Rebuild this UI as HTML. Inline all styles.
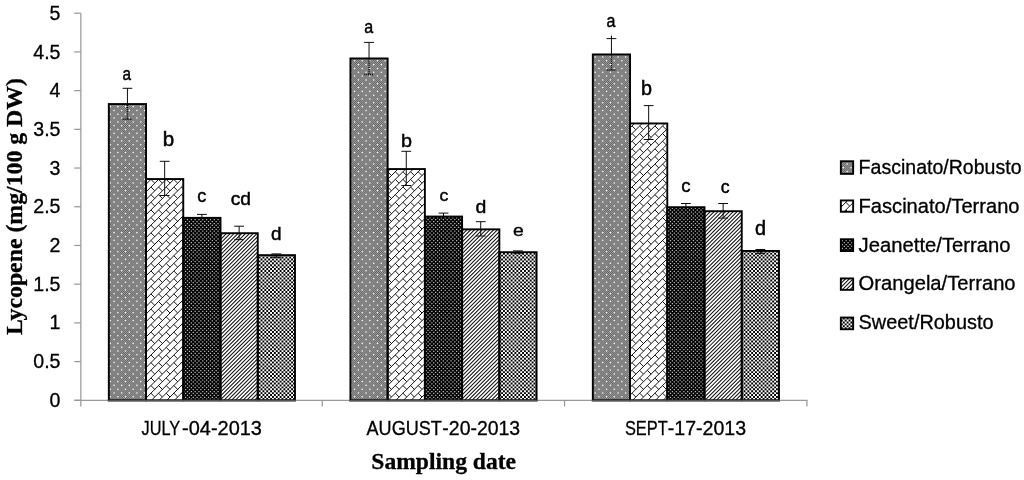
<!DOCTYPE html>
<html lang="en"><head><meta charset="utf-8"><title>Lycopene chart</title>
<style>
html,body{margin:0;padding:0;background:#fff;}
body{width:1024px;height:480px;overflow:hidden;}
svg{display:block;filter:blur(0.4px);}
.t{font-family:"Liberation Sans",sans-serif;fill:#000;stroke:#000;stroke-width:0.3px;}
.s{font-family:"Liberation Serif",serif;font-weight:bold;fill:#000;stroke:#000;stroke-width:0.3px;}
.h{stroke:#000;fill:none;}
</style></head><body>
<svg width="1024" height="480" viewBox="0 0 1024 480">
<defs>
<pattern id="p1" width="84" height="84" patternUnits="userSpaceOnUse">
<rect width="84" height="84" fill="#000" fill-opacity="0.3"/>
<path d="M-1.909,0.477H87M-0.955,1.432H87M-1.909,2.386H87M-0.955,3.341H87M-1.909,4.295H87M-0.955,5.25H87M-1.909,6.205H87M-0.955,7.159H87M-1.909,8.114H87M-0.955,9.068H87M-1.909,10.023H87M-0.955,10.977H87M-1.909,11.932H87M-0.955,12.886H87M-1.909,13.841H87M-0.955,14.795H87M-1.909,15.75H87M-0.955,16.705H87M-1.909,17.659H87M-0.955,18.614H87M-1.909,19.568H87M-0.955,20.523H87M-1.909,21.477H87M-0.955,22.432H87M-1.909,23.386H87M-0.955,24.341H87M-1.909,25.295H87M-0.955,26.25H87M-1.909,27.205H87M-0.955,28.159H87M-1.909,29.114H87M-0.955,30.068H87M-1.909,31.023H87M-0.955,31.977H87M-1.909,32.932H87M-0.955,33.886H87M-1.909,34.841H87M-0.955,35.795H87M-1.909,36.75H87M-0.955,37.705H87M-1.909,38.659H87M-0.955,39.614H87M-1.909,40.568H87M-0.955,41.523H87M-1.909,42.477H87M-0.955,43.432H87M-1.909,44.386H87M-0.955,45.341H87M-1.909,46.295H87M-0.955,47.25H87M-1.909,48.205H87M-0.955,49.159H87M-1.909,50.114H87M-0.955,51.068H87M-1.909,52.023H87M-0.955,52.977H87M-1.909,53.932H87M-0.955,54.886H87M-1.909,55.841H87M-0.955,56.795H87M-1.909,57.75H87M-0.955,58.705H87M-1.909,59.659H87M-0.955,60.614H87M-1.909,61.568H87M-0.955,62.523H87M-1.909,63.477H87M-0.955,64.432H87M-1.909,65.386H87M-0.955,66.341H87M-1.909,67.295H87M-0.955,68.25H87M-1.909,69.205H87M-0.955,70.159H87M-1.909,71.114H87M-0.955,72.068H87M-1.909,73.023H87M-0.955,73.977H87M-1.909,74.932H87M-0.955,75.886H87M-1.909,76.841H87M-0.955,77.795H87M-1.909,78.75H87M-0.955,79.705H87M-1.909,80.659H87M-0.955,81.614H87M-1.909,82.568H87M-0.955,83.523H87" stroke="#000" stroke-opacity="0.57" stroke-width="0.955" stroke-dasharray="0.955 0.955" fill="none"/>
<path d="M-0.496,-4.096H93M-4.316,-7.913H93M-0.496,3.54H93M-4.316,-0.276H93M-0.496,11.176H93M-4.316,7.36H93M-0.496,18.813H93M-4.316,14.996H93M-0.496,26.449H93M-4.316,22.633H93M-0.496,34.085H93M-4.316,30.269H93M-0.496,41.722H93M-4.316,37.905H93M-0.496,49.358H93M-4.316,45.542H93M-0.496,56.995H93M-4.316,53.178H93M-0.496,64.631H93M-4.316,60.815H93M-0.496,72.267H93M-4.316,68.451H93M-0.496,79.904H93M-4.316,76.087H93M-0.496,87.54H93M-4.316,83.724H93" stroke="#fff" stroke-width="1.55" stroke-linecap="round" stroke-dasharray="0 7.636" fill="none"/>
</pattern>
<pattern id="p2" width="84" height="84" patternUnits="userSpaceOnUse">
<path d="M-3.696,-2L-2,-3.696M3.94,-2L-2,3.94M11.576,-2L-2,11.576M19.213,-2L-2,19.213M26.849,-2L-2,26.849M34.485,-2L-2,34.485M42.122,-2L-2,42.122M49.758,-2L-2,49.758M57.395,-2L-2,57.395M65.031,-2L-2,65.031M72.667,-2L-2,72.667M80.304,-2L-2,80.304M87.94,-2L-2,87.94M95.576,-2L-2,95.576M103.213,-2L-2,103.213M110.849,-2L-2,110.849M118.485,-2L-2,118.485M126.122,-2L-2,126.122M133.758,-2L-2,133.758M141.395,-2L-2,141.395M149.031,-2L-2,149.031M156.667,-2L-2,156.667M164.304,-2L-2,164.304M171.94,-2L-2,171.94M179.576,-2L-2,179.576" stroke="#141414" stroke-width="1.0" fill="none"/>
<path d="M-9.435,80.102l114.545,114.545M-9.435,72.465l114.545,114.545M-9.435,64.829l114.545,114.545M-9.435,57.193l114.545,114.545M-9.435,49.556l114.545,114.545M-9.435,41.92l114.545,114.545M-9.435,34.284l114.545,114.545M-9.435,26.647l114.545,114.545M-9.435,19.011l114.545,114.545M-9.435,11.375l114.545,114.545M-9.435,3.738l114.545,114.545M-9.435,-3.898l114.545,114.545M-9.435,-11.535l114.545,114.545M-9.435,-19.171l114.545,114.545M-9.435,-26.807l114.545,114.545M-9.435,-34.444l114.545,114.545M-9.435,-42.08l114.545,114.545M-9.435,-49.716l114.545,114.545M-9.435,-57.353l114.545,114.545M-9.435,-64.989l114.545,114.545M-9.435,-72.625l114.545,114.545M-9.435,-80.262l114.545,114.545M-9.435,-87.898l114.545,114.545M-9.435,-95.535l114.545,114.545M-9.435,-103.171l114.545,114.545" stroke="#141414" stroke-width="1.0" stroke-dasharray="5.4 5.4" fill="none"/>
</pattern>
<pattern id="p3" width="42" height="42" patternUnits="userSpaceOnUse">
<rect width="42" height="42" fill="#000"/>
<path d="M-4.018,-1.743H47M-2.118,-3.643H47M-4.018,2.075H47M-2.118,0.175H47M-4.018,5.893H47M-2.118,3.993H47M-4.018,9.711H47M-2.118,7.811H47M-4.018,13.53H47M-2.118,11.63H47M-4.018,17.348H47M-2.118,15.448H47M-4.018,21.166H47M-2.118,19.266H47M-4.018,24.984H47M-2.118,23.084H47M-4.018,28.802H47M-2.118,26.902H47M-4.018,32.62H47M-2.118,30.72H47M-4.018,36.439H47M-2.118,34.539H47M-4.018,40.257H47M-2.118,38.357H47M-4.018,44.075H47M-2.118,42.175H47" stroke="#bbb" stroke-width="1.25" stroke-dasharray="1.25 2.568" fill="none"/>
</pattern>
<pattern id="p4" width="42" height="42" patternUnits="userSpaceOnUse">
<path d="M-0.018,-2L-2,-0.018M3.8,-2L-2,3.8M7.618,-2L-2,7.618M11.436,-2L-2,11.436M15.255,-2L-2,15.255M19.073,-2L-2,19.073M22.891,-2L-2,22.891M26.709,-2L-2,26.709M30.527,-2L-2,30.527M34.345,-2L-2,34.345M38.164,-2L-2,38.164M41.982,-2L-2,41.982M45.8,-2L-2,45.8M49.618,-2L-2,49.618M53.436,-2L-2,53.436M57.255,-2L-2,57.255M61.073,-2L-2,61.073M64.891,-2L-2,64.891M68.709,-2L-2,68.709M72.527,-2L-2,72.527M76.345,-2L-2,76.345M80.164,-2L-2,80.164M83.982,-2L-2,83.982M87.8,-2L-2,87.8M91.618,-2L-2,91.618" stroke="#111" stroke-width="1.05" fill="none"/>
</pattern>
<pattern id="p5" width="42" height="42" patternUnits="userSpaceOnUse">
<path d="M-0.998,-2.063H47M-0.998,1.755H47M-0.998,5.573H47M-0.998,9.391H47M-0.998,13.21H47M-0.998,17.028H47M-0.998,20.846H47M-0.998,24.664H47M-0.998,28.482H47M-0.998,32.3H47M-0.998,36.119H47M-0.998,39.937H47M-0.998,43.755H47" stroke="#000" stroke-width="1.909" stroke-dasharray="1.909 1.909" fill="none"/>
<path d="M-2.908,-0.153H47M-2.908,3.665H47M-2.908,7.483H47M-2.908,11.301H47M-2.908,15.12H47M-2.908,18.938H47M-2.908,22.756H47M-2.908,26.574H47M-2.908,30.392H47M-2.908,34.21H47M-2.908,38.029H47M-2.908,41.847H47M-2.908,45.665H47" stroke="#000" stroke-width="1.909" stroke-dasharray="1.909 1.909" fill="none"/>
</pattern>
</defs>
<rect width="1024" height="480" fill="#fff"/>

<g stroke="#9a9a9a" stroke-width="1.25" fill="none">
<path d="M80.85,13.20V406.50"/>
<path d="M74.25,400.30H80.85"/>
<path d="M74.25,361.59H80.85"/>
<path d="M74.25,322.88H80.85"/>
<path d="M74.25,284.17H80.85"/>
<path d="M74.25,245.46H80.85"/>
<path d="M74.25,206.75H80.85"/>
<path d="M74.25,168.04H80.85"/>
<path d="M74.25,129.33H80.85"/>
<path d="M74.25,90.62H80.85"/>
<path d="M74.25,51.91H80.85"/>
<path d="M74.25,13.20H80.85"/>
<path d="M322.30,400.30V406.50"/>
<path d="M564.55,400.30V406.50"/>
<path d="M806.90,400.30V406.50"/>
<path d="M74.25,400.30H807.50"/>
</g>
<g stroke="#000" stroke-width="0.95" fill="none">
<path d="M127.44,88.30V104.05M122.54,88.30H132.34"/>
<path d="M164.67,161.30V195.50M159.77,161.30H169.57M159.77,195.50H169.57"/>
<path d="M201.90,214.40V220.50M197.00,214.40H206.80M197.00,220.50H206.80"/>
<path d="M239.13,226.20V239.60M234.23,226.20H244.03M234.23,239.60H244.03"/>
<path d="M276.36,253.90V257.30M271.46,253.90H281.26M271.46,257.30H281.26"/>
<path d="M369.04,42.40V58.45M364.14,42.40H373.94"/>
<path d="M406.27,151.30V185.50M401.37,151.30H411.17M401.37,185.50H411.17"/>
<path d="M443.50,213.10V220.00M438.60,213.10H448.40M438.60,220.00H448.40"/>
<path d="M480.73,221.70V236.00M475.83,221.70H485.63M475.83,236.00H485.63"/>
<path d="M517.96,250.90V253.20M513.06,250.90H522.86M513.06,253.20H522.86"/>
<path d="M611.44,35.60V54.45M606.54,38.60H616.34"/>
<path d="M648.67,105.60V139.50M643.77,105.60H653.57M643.77,139.50H653.57"/>
<path d="M685.90,203.50V210.00M681.00,203.50H690.80M681.00,210.00H690.80"/>
<path d="M723.13,203.50V218.10M718.23,203.50H728.03M718.23,218.10H728.03"/>
<path d="M760.36,249.50V253.40M755.46,249.50H765.26M755.46,253.40H765.26"/>
</g>
<rect x="108.82" y="104.05" width="37.23" height="296.25" fill="url(#p1)" stroke="#000" stroke-width="1.9"/>
<rect x="146.05" y="179.05" width="37.23" height="221.25" fill="url(#p2)" stroke="#000" stroke-width="1.9"/>
<rect x="183.28" y="217.85" width="37.23" height="182.45" fill="url(#p3)" stroke="#000" stroke-width="1.9"/>
<rect x="220.52" y="233.2" width="37.23" height="167.1" fill="url(#p4)" stroke="#000" stroke-width="1.9"/>
<rect x="257.75" y="255.15" width="37.23" height="145.15" fill="url(#p5)" stroke="#000" stroke-width="1.9"/>
<rect x="350.42" y="58.45" width="37.23" height="341.85" fill="url(#p1)" stroke="#000" stroke-width="1.9"/>
<rect x="387.65" y="169.05" width="37.23" height="231.25" fill="url(#p2)" stroke="#000" stroke-width="1.9"/>
<rect x="424.88" y="216.55" width="37.23" height="183.75" fill="url(#p3)" stroke="#000" stroke-width="1.9"/>
<rect x="462.12" y="229.35" width="37.23" height="170.95" fill="url(#p4)" stroke="#000" stroke-width="1.9"/>
<rect x="499.35" y="252.2" width="37.23" height="148.1" fill="url(#p5)" stroke="#000" stroke-width="1.9"/>
<rect x="592.82" y="54.45" width="37.23" height="345.85" fill="url(#p1)" stroke="#000" stroke-width="1.9"/>
<rect x="630.05" y="123.45" width="37.23" height="276.85" fill="url(#p2)" stroke="#000" stroke-width="1.9"/>
<rect x="667.28" y="207.2" width="37.23" height="193.1" fill="url(#p3)" stroke="#000" stroke-width="1.9"/>
<rect x="704.52" y="211.2" width="37.23" height="189.1" fill="url(#p4)" stroke="#000" stroke-width="1.9"/>
<rect x="741.75" y="250.95" width="37.23" height="149.35" fill="url(#p5)" stroke="#000" stroke-width="1.9"/>
<path d="M127.44,105.05V119.20M122.74,119.20H132.34M369.04,59.45V74.50M364.34,74.50H373.94M611.44,55.45V70.00M606.74,70.00H616.34" stroke="#000" stroke-width="1.4" stroke-dasharray="0.95 0.95" fill="none"/>
<path d="M107.87,400.65H295.93" stroke="#555" stroke-width="1.9" fill="none"/>
<path d="M349.47,400.65H537.53" stroke="#555" stroke-width="1.9" fill="none"/>
<path d="M591.87,400.65H779.93" stroke="#555" stroke-width="1.9" fill="none"/>
<g class="t" font-size="19.6" text-anchor="end">
<text x="60.5" y="406.90">0</text>
<text x="60.5" y="368.19">0.5</text>
<text x="60.5" y="329.48">1</text>
<text x="60.5" y="290.77">1.5</text>
<text x="60.5" y="252.06">2</text>
<text x="60.5" y="213.35">2.5</text>
<text x="60.5" y="174.64">3</text>
<text x="60.5" y="135.93">3.5</text>
<text x="60.5" y="97.22">4</text>
<text x="60.5" y="58.51">4.5</text>
<text x="60.5" y="19.80">5</text>
</g>
<g class="t" font-size="20" style="stroke-width:0.5px">
<text transform="translate(122.50,79.51) scale(0.766,0.950)">a</text>
<text transform="translate(162.66,145.50) scale(1.028,0.980)">b</text>
<text transform="translate(197.23,202.02) scale(0.901,0.881)">c</text>
<text transform="translate(230.68,205.11) scale(0.961,0.952)">cd</text>
<text transform="translate(271.05,239.51) scale(0.944,0.939)">d</text>
<text transform="translate(364.32,32.62) scale(0.805,0.913)">a</text>
<text transform="translate(401.06,147.01) scale(0.989,0.963)">b</text>
<text transform="translate(439.50,201.43) scale(0.884,0.858)">c</text>
<text transform="translate(475.42,213.01) scale(0.972,0.963)">d</text>
<text transform="translate(512.93,235.78) scale(0.968,0.858)">e</text>
<text transform="translate(606.47,27.26) scale(0.800,0.936)">a</text>
<text transform="translate(641.06,94.91) scale(0.989,0.966)">b</text>
<text transform="translate(681.36,192.02) scale(0.930,0.881)">c</text>
<text transform="translate(720.74,193.27) scale(0.890,0.881)">c</text>
<text transform="translate(755.01,235.01) scale(0.989,0.973)">d</text>
</g>
<g class="t" font-size="19.3">
<text y="434.8"><tspan x="141.56" textLength="38.64" lengthAdjust="spacingAndGlyphs">JULY</tspan><tspan x="182.10" textLength="79.80" lengthAdjust="spacingAndGlyphs">-04-2013</tspan></text>
<text y="434.8"><tspan x="366.58" textLength="75.22" lengthAdjust="spacingAndGlyphs">AUGUST</tspan><tspan x="442.35" textLength="77.85" lengthAdjust="spacingAndGlyphs">-20-2013</tspan></text>
<text y="434.8"><tspan x="624.90" textLength="42.80" lengthAdjust="spacingAndGlyphs">SEPT</tspan><tspan x="667.80" textLength="78.30" lengthAdjust="spacingAndGlyphs">-17-2013</tspan></text>
</g>
<text class="s" font-size="23.75" x="371.3" y="469.4" textLength="144.8" lengthAdjust="spacingAndGlyphs">Sampling date</text>
<text class="s" font-size="23.75" transform="translate(21.6,335) rotate(-90)" textLength="257" lengthAdjust="spacingAndGlyphs">Lycopene (mg/100 g DW)</text>
<rect x="840.85" y="161.25" width="12.3" height="12.6" fill="url(#p1)" stroke="#000" stroke-width="1.9"/>
<text class="t" font-size="19.3" x="858.6" y="174.00" textLength="162.90" lengthAdjust="spacingAndGlyphs">Fascinato/Robusto</text>
<rect x="840.85" y="200.45" width="12.3" height="11.3" fill="url(#p2)" stroke="#000" stroke-width="1.9"/>
<text class="t" font-size="19.3" x="858.6" y="212.80" textLength="160.90" lengthAdjust="spacingAndGlyphs">Fascinato/Terrano</text>
<rect x="840.85" y="239.25" width="12.3" height="11.8" fill="url(#p3)" stroke="#000" stroke-width="1.9"/>
<text class="t" font-size="19.3" x="858.6" y="251.60" textLength="152.00" lengthAdjust="spacingAndGlyphs">Jeanette/Terrano</text>
<rect x="840.85" y="278.45" width="12.3" height="11.4" fill="url(#p4)" stroke="#000" stroke-width="1.9"/>
<text class="t" font-size="19.3" x="858.6" y="290.40" textLength="157.00" lengthAdjust="spacingAndGlyphs">Orangela/Terrano</text>
<rect x="840.85" y="317.55" width="12.3" height="11.7" fill="url(#p5)" stroke="#000" stroke-width="1.9"/>
<text class="t" font-size="19.3" x="858.6" y="329.20" textLength="134.90" lengthAdjust="spacingAndGlyphs">Sweet/Robusto</text>
</svg>
</body></html>
